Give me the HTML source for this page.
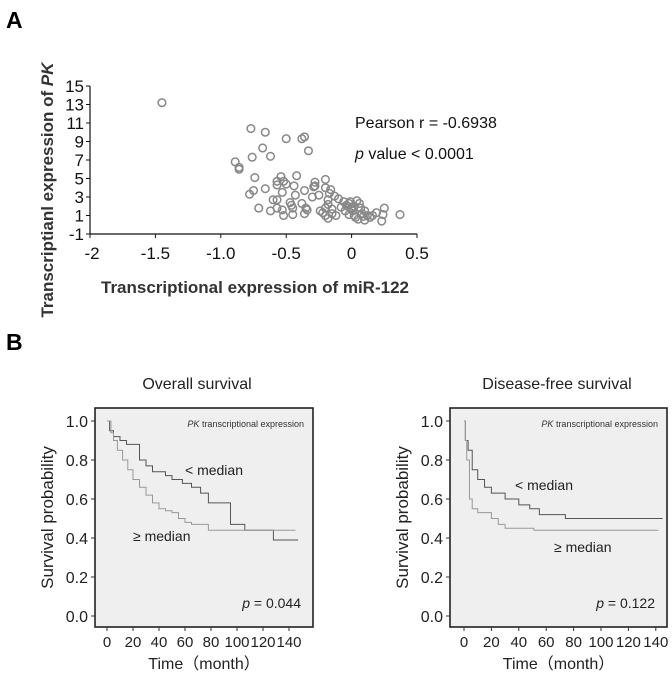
<!DOCTYPE html>
<html><head><meta charset="utf-8"><style>
body{margin:0;background:#fff;}
svg{display:block;font-family:"Liberation Sans","Noto Sans CJK SC",sans-serif;}
</style></head><body>
<svg id="fig" width="672" height="678" viewBox="0 0 672 678">
<text x="6" y="28" font-size="23" font-weight="bold">A</text>
<text x="6" y="350" font-size="23" font-weight="bold">B</text>
<text transform="translate(53,190) rotate(-90)" text-anchor="middle" font-size="17" font-weight="bold" fill="#333">Transcriptianl expression of <tspan font-style="italic">PK</tspan></text>
<text x="255" y="293" text-anchor="middle" font-size="17" font-weight="bold" fill="#333">Transcriptional expression of miR-122</text>
<text x="355" y="128" font-size="16" fill="#111">Pearson r = -0.6938</text>
<text x="355" y="159" font-size="16" fill="#111"><tspan font-style="italic">p</tspan> value &lt; 0.0001</text>
<g id="scatter"></g>
<text x="197" y="389" text-anchor="middle" font-size="16" fill="#222">Overall survival</text>
<text x="557" y="389" text-anchor="middle" font-size="16" fill="#222">Disease-free survival</text>
<g id="km1"></g>
<g id="km2"></g>
</svg>
<script>
const NS="http://www.w3.org/2000/svg";
const scatterX=[-1.45,-0.77,-0.66,-0.5,-0.38,-0.36,-0.33,-0.68,-0.76,-0.62,-0.89,-0.86,-0.86,-0.74,-0.42,-0.54,-0.57,-0.52,-0.57,-0.5,-0.44,-0.28,-0.28,-0.29,-0.2,-0.2,-0.16,-0.17,-0.25,-0.3,-0.36,-0.43,-0.53,-0.66,-0.75,-0.78,-0.6,-0.57,-0.47,-0.46,-0.38,-0.35,-0.34,-0.36,-0.45,-0.52,-0.53,-0.57,-0.62,-0.71,-0.45,-0.18,-0.18,-0.2,-0.22,-0.24,-0.2,-0.18,-0.15,-0.12,-0.15,-0.1,-0.06,-0.05,-0.03,-0.02,-0.01,0,0.01,0.02,-0.02,0.03,0.04,0.06,0.07,0.08,0.05,0.1,0.1,0.12,0.14,0.16,0.19,0.23,0.24,0.25,0.37,-0.08,0,0.09,-0.13,-0.04,0.02];
const scatterY=[13.2,10.4,10,9.3,9.3,9.5,8,8.3,7.3,7.4,6.8,6.2,6,5.1,5.3,5.2,4.7,4.7,4.3,4.4,4.2,4.6,4.2,4.1,4.9,4,3.8,3.4,3.2,3,3.7,3.2,3.5,3.9,3.7,3.3,2.7,2.7,2.4,2.1,2.3,1.8,1.6,1.2,1.1,1,1.6,1.8,1.5,1.8,1.8,2.7,2.2,1.8,1.3,1.5,1,0.7,1.2,1,1.7,2.8,2.5,1.5,2,2.3,2.5,1.9,1.5,1,1.1,0.8,2.6,2.3,1.8,1.2,0.6,0.5,1.5,1,0.8,1,1.3,0.4,1.1,1.8,1.1,1.9,1.7,0.9,3.1,2.1,2];
const scatterXTicks=["-2","-1.5","-1.0","-0.5","0","0.5"];
const scatterXTickVals=[-2,-1.5,-1,-0.5,0,0.5];
const scatterYTicks=[-1,1,3,5,7,9,11,13,15];

const osLowT=[0,2,5,10,15,24,25,30,35,45,50,58,65,72,78,93,95,105,106,127,128,147];
const osLowS=[1,0.95,0.92,0.9,0.88,0.88,0.80,0.77,0.74,0.72,0.70,0.68,0.66,0.63,0.58,0.58,0.47,0.47,0.44,0.44,0.39,0.39];
const osHighT=[0,3,5,8,12,16,20,25,30,35,40,45,50,55,60,65,77,78,145];
const osHighS=[1,0.94,0.9,0.85,0.8,0.75,0.7,0.66,0.62,0.58,0.55,0.54,0.53,0.5,0.48,0.47,0.47,0.44,0.44];
const dfsLowT=[0,1,3,6,10,15,20,30,40,46,48,55,73,74,145];
const dfsLowS=[1,0.9,0.85,0.75,0.70,0.66,0.63,0.60,0.57,0.57,0.55,0.52,0.52,0.50,0.50];
const dfsHighT=[0,1,2,4,6,10,17,20,25,30,50,51,142];
const dfsHighS=[1,0.9,0.8,0.6,0.55,0.53,0.53,0.5,0.47,0.45,0.45,0.44,0.44];
const kmXTicks=[0,20,40,60,80,100,120,140];
const kmYTicks=["0.0","0.2","0.4","0.6","0.8","1.0"];
const kmYTickVals=[0,0.2,0.4,0.6,0.8,1];

function mk(tag,attrs,parent,txt){const e=document.createElementNS(NS,tag);for(const k in attrs)e.setAttribute(k,attrs[k]);if(txt!==undefined)e.textContent=txt;parent.appendChild(e);return e;}

const sg=document.getElementById('scatter');
const sx=v=>90+(v+2)*(327/2.5);
const sy=v=>234-(v+1)*(148/16);
let e=mk('line',{x1:90,y1:86,x2:90,y2:234,stroke:'#111','stroke-width':1.2},sg);


e=mk('line',{x1:90,y1:234,x2:417,y2:234,stroke:'#111','stroke-width':1.2},sg);


scatterYTicks.forEach(v=>{mk('line',{x1:86,x2:90,y1:sy(v),y2:sy(v),stroke:'#111'},sg);
 e=mk('text',{x:84,y:sy(v)+6,'text-anchor':'end','font-size':17,fill:'#111'},sg,String(v));
 
 });
scatterXTickVals.forEach((v,i)=>{mk('line',{x1:sx(v),x2:sx(v),y1:234,y2:238,stroke:'#111'},sg);
 e=mk('text',{x:sx(v)+(i==0?2:0),y:259,'text-anchor':'middle','font-size':17,fill:'#111'},sg,scatterXTicks[i]);
 
 });
scatterX.forEach((v,i)=>{e=mk('circle',{cx:sx(v),cy:sy(scatterY[i]),r:3.8,fill:'none',stroke:'#888','stroke-width':1.5},sg);
 
 });

function km(g,opt){
 const L=opt.left,R=opt.right,T=408,B=627;
 const x=t=>opt.x0+t*opt.k, y=s=>616-s*195;
 let e=mk('rect',{x:L,y:T,width:R-L,height:B-T,fill:'#efefef',stroke:'#222','stroke-width':1.6},g);
 
 
 kmYTickVals.forEach((v,i)=>{mk('line',{x1:L-4,x2:L,y1:y(v),y2:y(v),stroke:'#333'},g);
  e=mk('text',{x:L-7,y:y(v)+6,'text-anchor':'end','font-size':16,fill:'#222'},g,kmYTicks[i]);
  
  });
 kmXTicks.forEach(v=>{mk('line',{x1:x(v),x2:x(v),y1:B,y2:B+4,stroke:'#333'},g);
  e=mk('text',{x:x(v),y:B+20,'text-anchor':'middle','font-size':15,fill:'#222'},g,String(v));
  
  });
 e=mk('text',{transform:`translate(${L-42},${(T+B)/2}) rotate(-90)`,'text-anchor':'middle','font-size':17,fill:'#222'},g,'Survival probability');
 
 
 e=mk('text',{x:(L+R)/2,y:669,'text-anchor':'middle','font-size':16,fill:'#222'},g,'Time（month）');
 
 
 e=mk('text',{x:R-9,y:427,'text-anchor':'end','font-size':9,fill:'#333'},g);
 
 
 mk('tspan',{'font-style':'italic'},e,'PK');mk('tspan',{},e,' transcriptional expression');
 e=mk('text',{x:R-12,y:608,'text-anchor':'end','font-size':14,fill:'#222'},g);
 
 
 mk('tspan',{'font-style':'italic'},e,'p');mk('tspan',{},e,' = '+opt.p);
 [[opt.lowT,opt.lowS,'#555','low-curve'],[opt.highT,opt.highS,'#999','high-curve']].forEach(([T_,S,c,n])=>{
  let d=`M${x(T_[0])},${y(S[0])}`;
  for(let i=1;i<T_.length;i++){d+=`H${x(T_[i])}V${y(S[i])}`;}
  const p=mk('path',{d:d,fill:'none',stroke:c,'stroke-width':1},g);
  
  
 });
 e=mk('text',{x:opt.lowLab[0],y:opt.lowLab[1],'font-size':14,fill:'#222'},g,'< median');
 
 
 e=mk('text',{x:opt.highLab[0],y:opt.highLab[1],'font-size':14,fill:'#222'},g,'≥ median');
 
 
}
km(document.getElementById('km1'),{left:95,right:313,x0:107,k:1.3,p:'0.044',lowT:osLowT,lowS:osLowS,highT:osHighT,highS:osHighS,lowLab:[185,475],highLab:[133,541]});
km(document.getElementById('km2'),{left:450,right:667,x0:464,k:1.37,p:'0.122',lowT:dfsLowT,lowS:dfsLowS,highT:dfsHighT,highS:dfsHighS,lowLab:[515,490],highLab:[554,552]});
</script>
</body></html>
